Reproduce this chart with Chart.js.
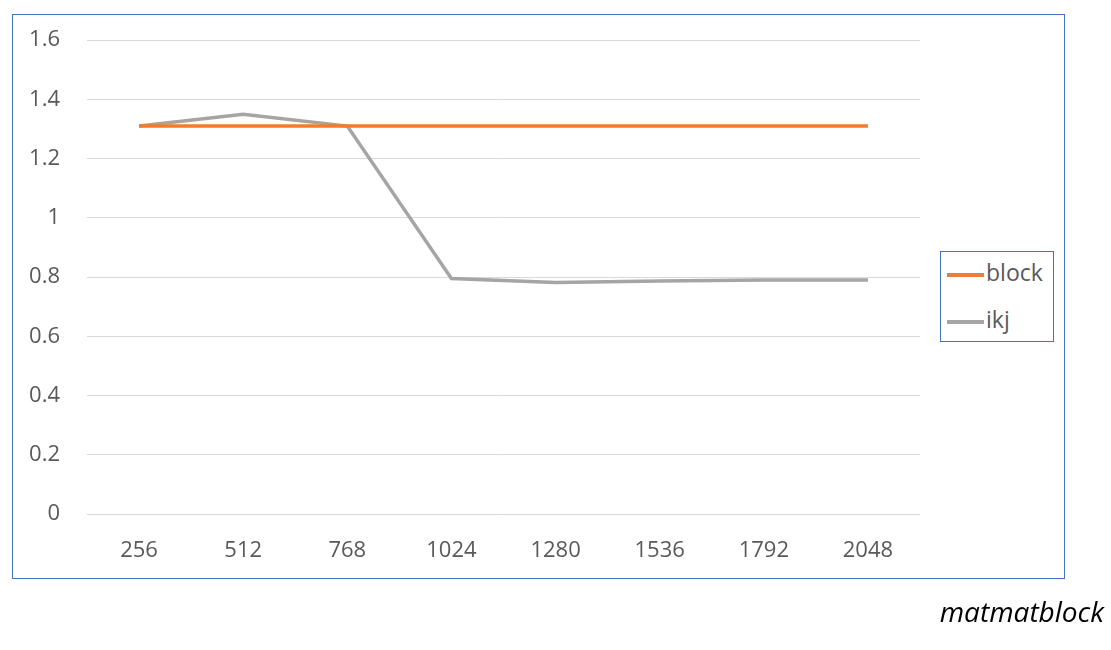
<!DOCTYPE html>
<html>
<head>
<meta charset="utf-8">
<script src="https://cdn.jsdelivr.net/npm/chart.js@4/dist/chart.umd.min.js"></script>
<style>
    body { margin: 0; background: #fff; font-family: "Open Sans", sans-serif; }
    #wrap { position: relative; width: 1111px; height: 650px; }
    #frame { position: absolute; left: 12px; top: 14px; width: 1051px; height: 563px; border: 1px solid #4472c4; }
    #chart { position: absolute; left: 0; top: 0; }
    #legend { position: absolute; left: 940px; top: 251px; width: 112px; height: 89px; border: 1px solid #4472c4; background: #fff; }
    .item { position: absolute; left: 6px; height: 30px; font-size: 23px; color: #595959; line-height: 30px; }
    .item span.sw { display: inline-block; width: 37px; height: 4px; vertical-align: middle; margin-right: 2px; }
    #note { position: absolute; right: 7px; top: 592px; font-size: 28px; font-style: italic; color: #000; }
</style>
</head>
<body>
<div id="wrap">
    <div id="frame"></div>
    <canvas id="chart" width="1111" height="650"></canvas>
    <div id="legend"></div>
    <div id="note">matmatblock</div>
</div>
<script>
const categories = ["256", "512", "768", "1024", "1280", "1536", "1792", "2048"];
const blockValues = [1.31, 1.31, 1.31, 1.31, 1.31, 1.31, 1.31, 1.31];
const ikjValues = [1.31, 1.35, 1.31, 0.795, 0.782, 0.787, 0.79, 0.79];
const seriesNames = ["block", "ikj"];
const seriesColors = ["#ed7d31", "#a5a5a5"];

document.addEventListener("DOMContentLoaded", () => {
    const ctx = document.getElementById("chart").getContext("2d");

    new Chart(ctx, {
        type: "line",
        data: {
            labels: categories,
            datasets: [
                { label: seriesNames[0], data: blockValues, borderColor: seriesColors[0], borderWidth: 3.5, pointRadius: 0, tension: 0 },
                { label: seriesNames[1], data: ikjValues, borderColor: seriesColors[1], borderWidth: 3.5, pointRadius: 0, tension: 0 },
            ],
        },
        options: {
            responsive: false,
            animation: false,
            layout: { padding: { left: 0, top: 40, right: 191, bottom: 76 } },
            plugins: { legend: { display: false }, tooltip: { enabled: false } },
            scales: {
                x: {
                    offset: true,
                    grid: { display: false, drawTicks: false },
                    border: { display: false },
                    ticks: { color: "#595959", font: { family: "Open Sans", size: 22 }, padding: 24 },
                    afterFit: (axis) => { axis.height = 60; },
                },
                y: {
                    min: 0,
                    max: 1.6,
                    grid: { color: "#d9d9d9", lineWidth: 1, drawTicks: false },
                    border: { display: false },
                    ticks: {
                        stepSize: 0.2,
                        color: "#595959",
                        font: { family: "Open Sans", size: 22 },
                        padding: 27,
                        callback: (v) => Math.round(v * 10) / 10,
                    },
                    afterFit: (axis) => { axis.width = 87; },
                },
            },
        },
    });

    // legend
    const legend = document.getElementById("legend");
    seriesNames.forEach((name, i) => {
        const div = document.createElement("div");
        div.className = "item";
        div.style.top = (5 + i * 47) + "px";
        div.innerHTML = `<span class="sw" style="background:${seriesColors[i]}"></span>${name}`;
        legend.appendChild(div);
    });
});
</script>
</body>
</html>
